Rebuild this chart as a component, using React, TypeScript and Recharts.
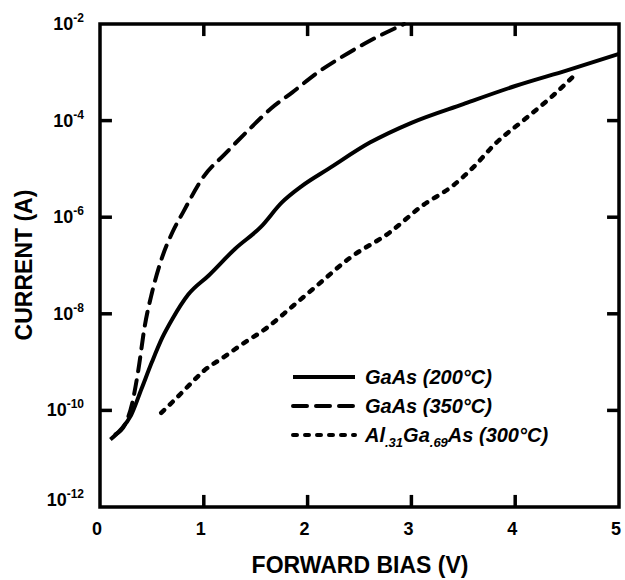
import React from 'react';
import { LineChart, Line, XAxis, YAxis, Customized } from 'recharts';

const FONT = '"Liberation Sans", Arial, Helvetica, sans-serif';

// forward bias (V) and current (A)
const gaas200Bias = [0.1, 0.2, 0.3, 0.4, 0.5, 0.6, 0.7, 0.85, 1.05, 1.3, 1.55, 1.75, 1.95, 2.2, 2.6, 3.0, 3.5, 4.0, 4.5, 5.0];
const gaas200Current = [2.5e-11, 4e-11, 8e-11, 2.8e-10, 1e-9, 3.2e-9, 8e-9, 2.5e-8, 6.3e-8, 2.2e-7, 6.3e-7, 2e-6, 4.5e-6, 1e-5, 3.5e-5, 9e-5, 2.2e-4, 5.2e-4, 1.1e-3, 2.4e-3];

const gaas350Bias = [0.15, 0.25, 0.31, 0.37, 0.43, 0.5, 0.59, 0.7, 0.8, 1.0, 1.2, 1.45, 1.65, 1.85, 2.1, 2.3, 2.6, 2.93];
const gaas350Current = [3.2e-11, 5.6e-11, 1.4e-10, 7e-10, 5.4e-9, 2.7e-8, 1.3e-7, 5e-7, 1.26e-6, 7e-6, 2e-5, 7e-5, 1.8e-4, 3.8e-4, 1e-3, 1.9e-3, 4.5e-3, 1e-2];

const algaasBias = [0.59, 0.72, 0.88, 1.0, 1.2, 1.35, 1.6, 1.85, 2.1, 2.4, 2.8, 3.1, 3.4, 3.6, 3.8, 4.1, 4.35, 4.6];
const algaasCurrent = [8.9e-11, 1.66e-10, 3.7e-10, 6.6e-10, 1.3e-9, 2.2e-9, 5e-9, 1.4e-8, 4e-8, 1.4e-7, 5e-7, 1.7e-6, 4.5e-6, 1.1e-5, 3.2e-5, 1.1e-4, 3.1e-4, 1e-3];

const xTicks = [0, 1, 2, 3, 4, 5];
const yTicks = [1e-12, 1e-10, 1e-8, 1e-6, 1e-4, 1e-2];

const toPoints = (xs: number[], ys: number[]) => xs.map((v, i) => ({ bias: v, current: ys[i] }));
const gaas200 = toPoints(gaas200Bias, gaas200Current);
const gaas350 = toPoints(gaas350Bias, gaas350Current);
const algaas = toPoints(algaasBias, algaasCurrent);

const AXIS_W = 3.5;
const LONG_DASH = '14 9';
const SHORT_DASH = '4 8';

// plot frame and inward ticks, in axis units so they go through the same scales
const X_MIN = xTicks[0];
const X_MAX = xTicks[xTicks.length - 1];
const Y_MIN = yTicks[0];
const Y_MAX = yTicks[yTicks.length - 1];
const TICK_DEC = Math.pow(10, 0.25); // ~12px on the log axis
const TICK_V = 0.115; // ~12px on the bias axis

const frame = toPoints([X_MIN, X_MAX, X_MAX, X_MIN, X_MIN], [Y_MIN, Y_MIN, Y_MAX, Y_MAX, Y_MIN]);
const tickSegments = [
  ...xTicks.slice(1, -1).map((v) => toPoints([v, v], [Y_MIN, Y_MIN * TICK_DEC])),
  ...xTicks.slice(1, -1).map((v) => toPoints([v, v], [Y_MAX, Y_MAX / TICK_DEC])),
  ...yTicks.slice(1, -1).map((v) => toPoints([X_MIN, X_MIN + TICK_V], [v, v])),
  ...yTicks.slice(1, -1).map((v) => toPoints([X_MAX, X_MAX - TICK_V], [v, v])),
];

const BottomTick = (props: any) => {
  const { x, y, payload } = props;
  return (
    <text x={x - 3} y={y + 16} textAnchor="middle" fontSize={18} fontWeight={700} fontFamily={FONT} fill="#000">
      {payload.value}
    </text>
  );
};

const LeftTick = (props: any) => {
  const { y, payload } = props;
  const exp = Math.round(Math.log10(payload.value));
  const base = exp === -12 ? y - 1 : y + 6;
  return (
    <text x={84} y={base} textAnchor="end" fontSize={18} fontWeight={700} fontFamily={FONT} fill="#000">
      10<tspan dy={-8} fontSize={12}>{exp}</tspan>
    </text>
  );
};

const legendRows = [
  { key: 'a', dash: undefined as string | undefined },
  { key: 'b', dash: LONG_DASH },
  { key: 'c', dash: SHORT_DASH },
];

const LegendBox = () => {
  const x0 = 293;
  const x1 = 355;
  const ys = [377, 406, 435];
  const textStyle = { fontSize: 20, fontWeight: 700, fontStyle: 'italic', fontFamily: FONT } as const;
  return (
    <g>
      {legendRows.map((r, i) => (
        <line
          key={r.key}
          x1={x0}
          x2={x1}
          y1={ys[i]}
          y2={ys[i]}
          stroke="#000"
          strokeWidth={4}
          strokeLinecap={r.dash ? 'round' : 'butt'}
          strokeDasharray={r.dash}
        />
      ))}
      <text x={365} y={ys[0] + 7} {...textStyle}>GaAs (200°C)</text>
      <text x={365} y={ys[1] + 7} {...textStyle}>GaAs (350°C)</text>
      <text x={365} y={ys[2] + 7} {...textStyle}>
        Al<tspan dy={5} fontSize={13}>.31</tspan>
        <tspan dy={-5}>Ga</tspan>
        <tspan dy={5} fontSize={13}>.69</tspan>
        <tspan dy={-5}>As (300°C)</tspan>
      </text>
    </g>
  );
};

const Titles = () => (
  <g>
    <text
      x={32}
      y={265}
      transform="rotate(-90 32 265)"
      textAnchor="middle"
      fontSize={23}
      fontWeight={700}
      fontFamily={FONT}
      fill="#000"
    >
      CURRENT (A)
    </text>
    <text x={360} y={573} textAnchor="middle" fontSize={23} fontWeight={700} fontFamily={FONT} fill="#000">
      FORWARD BIAS (V)
    </text>
  </g>
);

export default function App() {
  return (
    <div style={{ position: 'absolute', left: 0, top: 0, width: 625, height: 580, background: '#fff' }}>
      <LineChart width={625} height={580} margin={{ top: 24, right: 6, bottom: 0, left: 0 }}>
        <XAxis
          dataKey="bias"
          type="number"
          domain={[X_MIN, X_MAX]}
          ticks={xTicks}
          interval={0}
          height={73}
          tickSize={0}
          tickMargin={12}
          tickLine={false}
          axisLine={false}
          tick={<BottomTick />}
        />
        <YAxis
          dataKey="current"
          type="number"
          scale="log"
          domain={[Y_MIN, Y_MAX]}
          ticks={yTicks}
          interval={0}
          width={100}
          tickSize={0}
          tickMargin={0}
          tickLine={false}
          axisLine={false}
          tick={<LeftTick />}
        />
        <Line
          data={frame}
          dataKey="current"
          type="linear"
          stroke="#000"
          strokeWidth={AXIS_W}
          strokeLinejoin="miter"
          strokeLinecap="square"
          dot={false}
          activeDot={false}
          legendType="none"
          isAnimationActive={false}
        />
        {tickSegments.map((seg, i) => (
          <Line
            key={`tick-${i}`}
            data={seg}
            dataKey="current"
            type="linear"
            stroke="#000"
            strokeWidth={AXIS_W}
            dot={false}
            activeDot={false}
            legendType="none"
            isAnimationActive={false}
          />
        ))}
        <Line
          data={gaas200}
          dataKey="current"
          type="monotone"
          stroke="#000"
          strokeWidth={4}
          dot={false}
          isAnimationActive={false}
        />
        <Line
          data={gaas350}
          dataKey="current"
          type="monotone"
          stroke="#000"
          strokeWidth={4}
          strokeDasharray={LONG_DASH}
          strokeLinecap="round"
          dot={false}
          isAnimationActive={false}
        />
        <Line
          data={algaas}
          dataKey="current"
          type="monotone"
          stroke="#000"
          strokeWidth={4.5}
          strokeDasharray={SHORT_DASH}
          strokeLinecap="round"
          dot={false}
          isAnimationActive={false}
        />
        <Customized component={<LegendBox />} />
        <Customized component={<Titles />} />
      </LineChart>
    </div>
  );
}
